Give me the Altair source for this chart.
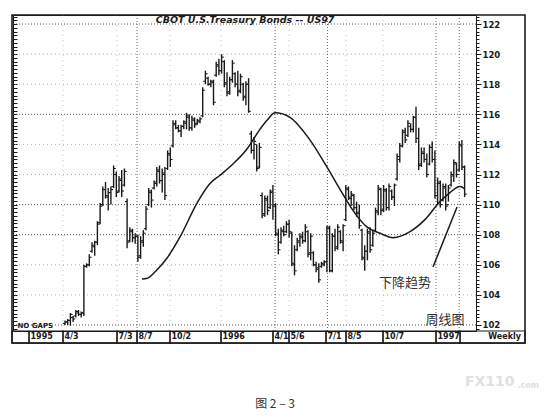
import altair as alt
import pandas as pd

# ---- weekly OHLC bars (bar number 0 = first bar after "NO GAPS") ----
highs = [102.3, 102.4, 102.8, 102.6, 103.0, 103.0, 102.9, 106.0, 106.1, 106.7,
         107.5, 107.6, 108.9, 110.1, 111.2, 111.5, 111.1, 111.2, 112.6, 112.2,
         111.9, 112.3, 112.4, 110.4, 108.5, 108.4, 108.1, 108.0, 107.9, 108.3,
         109.9, 111.1, 111.0, 111.6, 112.5, 112.6, 112.4, 112.5, 113.6, 113.8,
         115.6, 115.6, 115.3, 115.3, 115.6, 116.1, 116.0, 115.9, 115.8, 115.7,
         115.8, 117.8, 118.9, 118.5, 118.3, 118.3, 119.5, 119.7, 120.0, 119.6,
         118.8, 118.5, 119.6, 118.8, 118.9, 118.7, 118.1, 118.2, 118.4, 114.9,
         114.5, 114.0, 114.1, 110.8, 110.6, 110.6, 111.0, 111.3, 110.1, 108.4,
         108.5, 108.6, 108.9, 109.0, 108.2, 107.3, 107.8, 108.1, 108.2, 108.7,
         108.3, 108.1, 106.9, 106.2, 106.1, 106.2, 106.3, 108.6, 108.6, 108.1,
         108.4, 108.7, 108.3, 108.7, 111.3, 111.2, 110.9, 110.7, 110.2, 110.0,
         108.4, 107.3, 108.4, 108.5, 108.3, 109.8, 111.3, 111.1, 111.3, 111.1,
         111.4, 111.0, 111.4, 113.4, 114.1, 115.0, 115.1, 115.6, 115.4, 115.9,
         116.5, 115.1, 113.8, 113.8, 113.4, 114.0, 114.2, 113.6, 111.8, 111.6,
         111.4, 111.4, 111.3, 112.2, 113.0, 112.8, 114.2, 114.3, 112.6]
lows = [102.0, 102.0, 101.95, 102.2, 102.5, 102.6, 102.5, 102.6, 105.8, 105.9,
        106.8, 106.6, 107.3, 108.7, 109.9, 110.4, 109.6, 110.0, 111.1, 110.5,
        110.8, 110.5, 111.2, 107.1, 107.5, 107.5, 107.4, 106.2, 106.4, 107.2,
        108.3, 109.9, 109.8, 111.0, 111.2, 111.4, 110.8, 110.3, 112.3, 112.5,
        113.8, 115.0, 114.8, 114.5, 115.0, 115.0, 114.9, 114.9, 115.1, 115.3,
        115.4, 115.8, 118.0, 117.9, 117.8, 116.6, 118.5, 118.6, 118.7, 117.8,
        117.2, 117.3, 118.1, 117.8, 117.2, 117.4, 116.9, 116.6, 116.1, 113.4,
        113.0, 112.2, 112.4, 109.1, 109.2, 109.3, 109.7, 109.0, 107.9, 106.7,
        107.4, 107.9, 108.1, 107.8, 105.9, 105.3, 106.9, 107.2, 107.4, 107.5,
        106.5, 106.3, 105.9, 105.5, 104.8, 105.8, 105.9, 105.5, 105.5, 105.5,
        106.9, 107.0, 107.4, 106.9, 108.9, 110.3, 109.9, 109.6, 109.2, 108.4,
        106.3, 105.6, 106.3, 106.8, 107.2, 108.2, 109.3, 109.3, 109.5, 109.6,
        109.6, 110.3, 109.9, 111.6, 112.8, 113.8, 114.1, 114.5, 114.8, 114.8,
        114.1, 112.3, 112.5, 112.8, 111.8, 112.6, 112.8, 110.4, 110.0, 109.8,
        110.2, 109.6, 110.2, 111.2, 111.5, 111.8, 112.2, 112.3, 110.5]
opens = [102.1, 102.2, 102.3, 102.5, 102.6, 102.8, 102.7, 102.8, 105.9, 106.0,
         106.9, 107.2, 107.5, 108.8, 110.0, 111.0, 110.5, 110.8, 111.2, 112.0,
         110.9, 111.6, 111.3, 110.2, 107.6, 108.2, 107.8, 107.9, 106.6, 107.5,
         108.4, 110.0, 110.8, 111.1, 111.4, 112.2, 111.6, 112.0, 112.4, 113.3,
         113.9, 115.3, 115.1, 114.9, 115.2, 115.4, 115.8, 115.1, 115.6, 115.4,
         115.5, 115.9, 118.2, 118.4, 118.0, 118.1, 118.6, 119.2, 118.9, 119.5,
         118.1, 117.5, 118.3, 118.7, 118.0, 117.6, 118.0, 117.2, 118.0, 114.7,
         113.6, 114.0, 112.5, 110.6, 109.4, 110.3, 109.8, 110.9, 110.0, 108.0,
         107.5, 108.2, 108.2, 108.7, 108.1, 106.0, 107.0, 107.5, 107.8, 107.6,
         108.2, 106.8, 106.8, 106.0, 105.8, 105.9, 106.0, 106.2, 108.4, 105.6,
         107.9, 107.2, 108.2, 107.5, 109.0, 111.0, 110.4, 110.6, 109.8, 109.5,
         108.3, 106.4, 106.9, 108.1, 107.3, 108.3, 109.5, 111.0, 109.7, 110.9,
         109.8, 110.9, 110.5, 111.7, 113.0, 113.9, 114.9, 114.6, 115.2, 115.0,
         115.8, 114.4, 112.7, 113.4, 113.0, 112.7, 113.8, 113.0, 110.6, 111.4,
         110.3, 111.1, 110.0, 111.3, 111.9, 112.7, 112.3, 113.9, 112.5]
closes = [102.2, 102.3, 102.7, 102.4, 102.9, 102.7, 102.8, 105.9, 106.0, 106.5,
          107.3, 107.5, 108.7, 109.9, 111.0, 110.6, 110.8, 111.0, 112.4, 110.8,
          111.7, 110.9, 112.2, 107.5, 108.3, 107.8, 107.9, 106.5, 107.6, 108.1,
          109.7, 110.9, 110.3, 111.5, 112.3, 111.6, 112.1, 110.6, 113.4, 113.0,
          115.4, 115.1, 114.9, 115.2, 115.5, 115.9, 115.1, 115.7, 115.3, 115.6,
          115.7, 117.6, 118.7, 118.0, 118.2, 116.8, 119.3, 118.9, 119.8, 118.0,
          117.4, 118.3, 119.4, 118.0, 117.5, 118.5, 117.1, 118.0, 116.2, 113.6,
          114.2, 112.4, 113.8, 109.3, 110.4, 109.6, 110.8, 109.9, 108.1, 107.0,
          108.3, 108.0, 108.7, 108.2, 106.1, 105.6, 107.6, 107.9, 107.6, 108.5,
          106.7, 107.9, 106.0, 105.7, 105.0, 106.1, 106.2, 108.5, 105.6, 107.9,
          107.1, 108.5, 107.6, 108.6, 111.1, 110.5, 110.7, 109.8, 109.4, 108.6,
          106.5, 106.9, 108.2, 107.0, 108.1, 109.6, 111.1, 109.6, 111.0, 109.8,
          111.2, 110.5, 111.3, 113.2, 113.9, 114.8, 114.3, 115.4, 115.0, 115.8,
          114.4, 112.6, 113.5, 113.0, 112.0, 113.8, 113.0, 110.6, 111.5, 110.0,
          111.2, 109.9, 111.1, 112.0, 112.8, 112.0, 114.0, 112.5, 110.7]

# ---- moving average curve (bar number, price) ----
ma_week = [28.5, 30.5, 34.0, 37.8, 42.6, 48.9, 53.7, 57.4, 62.2, 67.4, 72.2, 74.8,
           77.8, 83.3, 90.7, 97.0, 101.9, 106.7, 111.9, 116.7, 121.5, 127.8,
           133.3, 138.9, 142.6, 146.3, 148.1]
ma_value = [105.05, 105.1, 105.65, 106.45, 107.85, 110.1, 111.4, 111.95, 112.7, 113.7,
            115.0, 115.6, 116.1, 115.8, 114.3, 112.5, 111.0, 109.6, 108.5, 108.1,
            107.8, 108.2, 109.0, 110.2, 110.8, 111.2, 111.05]

# ---- date band under the chart ----
box_labels = ["", "1995", "4/3", "7/3", "8/7", "10/2", "1996", "4/1", "5/6",
              "7/1", "8/5", "10/7", "1997", "Weekly"]
box_starts = [-19.63, -13.33, -0.74, 19.26, 26.67, 38.89, 57.78, 77.04, 82.96,
              96.67, 104.07, 117.78, 137.41, 146.3]
box_ends = box_starts[1:] + [170.37]

grid_strong_y = [102, 108, 110, 116, 122]
grid_faint_y = [104, 106, 112, 114, 118, 120]
grid_strong_x = [26.7, 77.8, 97.2, 137.4, 146.0]
grid_faint_x = [-0.74, 19.26, 38.89, 57.78, 82.96, 104.07, 117.78]
tick_values = [101.75 + 0.25 * i for i in range(84)]

INK = "#1a1a1a"
X_DOM = [-19.26, 152.22]
Y_DOM = [101.6, 122.6]
BAND_TOP, BAND_BOTTOM = 101.6, 100.8


def xq(field):
    return alt.X(field, type="quantitative",
                 scale=alt.Scale(domain=X_DOM, nice=False, zero=False), axis=None)


def yq(field, axis=None):
    return alt.Y(field, type="quantitative",
                 scale=alt.Scale(domain=Y_DOM, nice=False, zero=False), axis=axis)


bars = pd.DataFrame({"week": list(range(len(highs))), "high": highs, "low": lows,
                     "open": opens, "close": closes})
ma = pd.DataFrame({"week": ma_week, "ma": ma_value})
boxes = pd.DataFrame({"start": box_starts, "end": box_ends, "label": box_labels,
                      "top": BAND_TOP, "bottom": BAND_BOTTOM,
                      "mid": (BAND_TOP + BAND_BOTTOM) / 2})

right_axis = alt.Axis(orient="right", values=tick_values, title=None, grid=False,
                      domain=False, tickColor=INK, tickWidth=1, labelOverlap=False,
                      tickSize={"condition": {"test": "datum.value % 2 === 0", "value": 5},
                                "value": 3},
                      labelExpr="datum.value % 2 === 0 ? format(datum.value, 'd') : ''",
                      labelFont="DejaVu Sans", labelFontWeight="bold",
                      labelFontSize=8.5, labelColor=INK, labelPadding=1,
                      labelBaseline="middle")
left_axis = alt.Axis(orient="left", values=tick_values, title=None, grid=False,
                     domain=False, labels=False, tickColor=INK, tickSize=4,
                     offset=-4, tickWidth=1)

grid_faint = alt.Chart(pd.DataFrame({"v": grid_faint_y})).mark_rule(
    color="#9a9a9a", strokeWidth=0.8, strokeDash=[1, 3]).encode(y=yq("v", left_axis))
grid_strong = alt.Chart(pd.DataFrame({"v": grid_strong_y})).mark_rule(
    color="#444444", strokeWidth=0.9, strokeDash=[1, 2]).encode(y=yq("v"))
vgrid_faint = alt.Chart(pd.DataFrame({"k": grid_faint_x})).mark_rule(
    color="#b0b0b0", strokeWidth=0.8, strokeDash=[1, 4]).encode(x=xq("k"))
vgrid_strong = alt.Chart(pd.DataFrame({"k": grid_strong_x})).mark_rule(
    color="#555555", strokeWidth=0.9, strokeDash=[1, 2]).encode(x=xq("k"))

hl = alt.Chart(bars).mark_rule(color=INK, strokeWidth=1.4).encode(
    x=xq("week"), y=yq("low", right_axis), y2="high")
op = alt.Chart(bars).mark_rule(color=INK, strokeWidth=1.1, xOffset=-2.2).encode(
    x=xq("week"), x2="week", y=yq("open"))
cl = alt.Chart(bars).mark_rule(color=INK, strokeWidth=1.1, x2Offset=2.2).encode(
    x=xq("week"), x2="week", y=yq("close"))

ma_line = alt.Chart(ma).mark_line(color=INK, strokeWidth=1.5, interpolate="monotone").encode(
    x=xq("week"), y=yq("ma"))

frame = alt.Chart(pd.DataFrame({"x0": [-19.63], "x1": [170.37],
                                "y0": [BAND_BOTTOM], "y1": [122.6]})).mark_rect(
    fillOpacity=0, stroke=INK, strokeWidth=1.6).encode(
    x=xq("x0"), x2="x1", y=yq("y0"), y2="y1")

band = alt.Chart(boxes).mark_rect(fillOpacity=0, stroke=INK, strokeWidth=1.2).encode(
    x=xq("start"), x2="end", y=yq("top"), y2="bottom")
band_text = alt.Chart(boxes).transform_filter("datum.label !== 'Weekly'").mark_text(
    align="left", baseline="middle", dx=1.5, font="DejaVu Sans", fontWeight="bold",
    fontSize=8, color=INK).encode(x=xq("start"), y=yq("mid"), text="label")
band_weekly = alt.Chart(boxes).transform_filter("datum.label === 'Weekly'").mark_text(
    align="right", baseline="middle", dx=-4, font="DejaVu Sans", fontWeight="bold",
    fontSize=8, color=INK).encode(x=xq("end"), y=yq("mid"), text="label")

notes = pd.DataFrame({
    "k": [66.7, -17.6],
    "v": [122.27, 101.95],
    "t": ["CBOT U.S.Treasury Bonds -- US97", "NO GAPS"],
})
title_txt = alt.Chart(notes.iloc[[0]]).mark_text(
    font="DejaVu Sans", fontWeight="bold", fontStyle="italic", fontSize=9.5,
    color=INK, baseline="middle").encode(x=xq("k"), y=yq("v"), text="t")
nogaps_txt = alt.Chart(notes.iloc[[1]]).mark_text(
    font="DejaVu Sans", fontWeight="bold", fontSize=7, color=INK,
    align="left", baseline="middle").encode(x=xq("k"), y=yq("v"), text="t")

cn = pd.DataFrame({"k": [125.9, 140.7], "v": [104.79, 102.33], "t": ["下降趋势", "周线图"]})
cn_txt = alt.Chart(cn).mark_text(font="Noto Sans CJK SC", fontSize=13, color="#333333",
                                 baseline="middle").encode(x=xq("k"), y=yq("v"), text="t")

arrow = alt.Chart(pd.DataFrame({"k": [136.3], "k2": [145.2], "v": [105.85], "v2": [109.84]})).mark_rule(
    color=INK, strokeWidth=1.5).encode(x=xq("k"), x2="k2", y=yq("v"), y2="v2")

caption = alt.Chart(pd.DataFrame({"k": [77.8], "v": [96.75], "t": ["图 2 – 3"]})).mark_text(
    font="Noto Sans CJK SC", fontSize=12, color="#333333", baseline="middle").encode(
    x=xq("k"), y=yq("v"), text="t")

wm = pd.DataFrame({"k": [148.1, 167.6], "v": [98.2, 97.95], "t": ["FX110", ".com"],
                   "s": [14, 8]})
wm_txt = alt.Chart(wm).mark_text(font="DejaVu Sans", fontWeight="bold", color="#e0e0e0",
                                 baseline="middle", align="left").encode(
    x=xq("k"), y=yq("v"), text="t", size=alt.Size("s:Q", scale=None, legend=None))

chart = alt.layer(
    grid_faint, grid_strong, vgrid_faint, vgrid_strong,
    hl, op, cl, ma_line, frame, band, band_text, band_weekly,
    title_txt, nogaps_txt, cn_txt, arrow, caption, wm_txt,
).resolve_axis(y="independent").properties(
    width=463, height=316,
    autosize=alt.AutoSizeParams(type="none"),
    padding={"left": 5, "top": 7, "right": 63, "bottom": 80},
    background="white",
).configure_view(stroke=INK, strokeWidth=1)

chart.save("out.html", embed_options={"renderer": "svg", "actions": False})
